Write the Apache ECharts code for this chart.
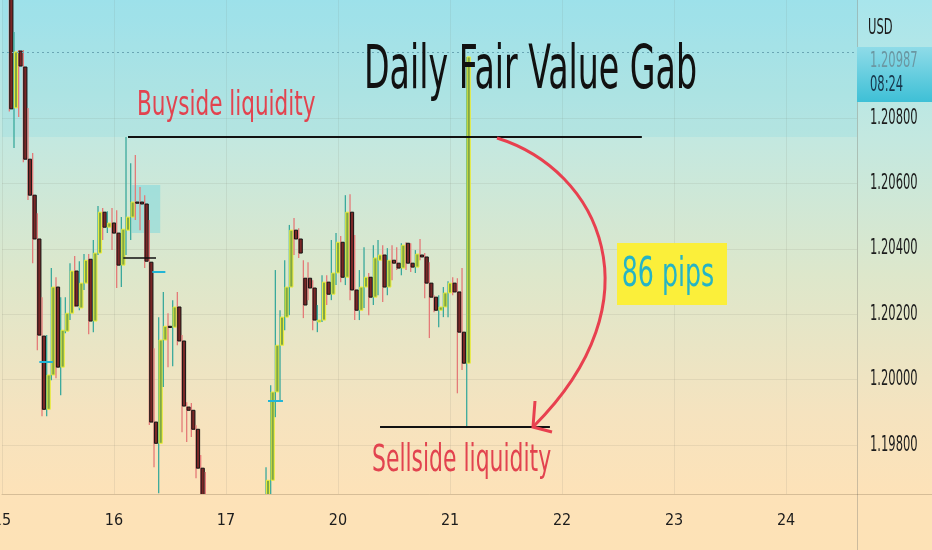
<!DOCTYPE html>
<html><head><meta charset="utf-8">
<script src="https://cdn.jsdelivr.net/npm/echarts@6/dist/echarts.min.js"></script>
<style>html,body{margin:0;padding:0;background:#fff}#c{width:932px;height:550px;}</style>
</head><body><div id="c"></div>
<script>
// ---- data (hourly EURUSD bars, one category per hour, 24 per trading day) ----
const days = ['15', '16', '17', '20', '21', '22', '23', '24'];
const hoursPerDay = 24;
const firstBar = 2; // hour index of the first bar on the 15th
const yTicks = [1.198, 1.200, 1.202, 1.204, 1.206, 1.208];
const lastPrice = 1.20987;
const buysideLevel = 1.20742;
const sellsideLevel = 1.19855;

const opens = [
 1.21300,1.20831,1.21005,1.20956,1.20674,1.20564,1.20430,1.20133,1.19909,1.20014,
 1.20283,1.20038,1.20148,1.20203,1.20332,1.20219,1.20295,1.20368,1.20179,1.20387,
 1.20512,1.20466,1.20479,1.20448,1.20350,1.20457,1.20497,1.20543,1.20543,1.20537,
 1.20359,1.19870,1.19805,1.20121,1.20163,1.20160,1.20222,1.20118,1.19916,1.19906,
 1.19848,1.19729,1.19570,1.19447,1.19410,1.19380,1.19420,1.19390,1.19430,1.19450,
 1.19440,1.19470,1.19460,1.19500,1.19560,1.19631,1.19692,1.19962,1.20105,1.20191,
 1.20283,1.20457,1.20430,1.20310,1.20310,1.20280,1.20176,1.20182,1.20298,1.20261,
 1.20326,1.20420,1.20313,1.20512,1.20274,1.20212,1.20283,1.20313,1.20252,1.20365,
 1.20381,1.20283,1.20365,1.20356,1.20341,1.20417,1.20356,1.20344,1.20381,1.20375,
 1.20295,1.20252,1.20212,1.20222,1.20265,1.20295,1.20268,1.20145,1.20050];
const closes = [
 1.20828,1.21002,1.20959,1.20674,1.20564,1.20430,1.20136,1.19909,1.20014,1.20283,
 1.20038,1.20151,1.20203,1.20332,1.20225,1.20295,1.20365,1.20179,1.20387,1.20512,
 1.20466,1.20479,1.20448,1.20350,1.20460,1.20497,1.20543,1.20540,1.20537,1.20362,
 1.19870,1.19805,1.20121,1.20163,1.20160,1.20222,1.20118,1.19919,1.19906,1.19848,
 1.19729,1.19570,1.19447,1.19410,1.19380,1.19420,1.19390,1.19430,1.19450,1.19440,
 1.19470,1.19460,1.19500,1.19560,1.19620,1.19692,1.19962,1.20105,1.20191,1.20283,
 1.20457,1.20430,1.20387,1.20228,1.20280,1.20182,1.20182,1.20298,1.20261,1.20326,
 1.20420,1.20313,1.20512,1.20274,1.20212,1.20283,1.20313,1.20252,1.20372,1.20381,
 1.20283,1.20365,1.20356,1.20341,1.20411,1.20356,1.20344,1.20384,1.20375,1.20295,
 1.20252,1.20212,1.20222,1.20265,1.20295,1.20268,1.20145,1.20050,1.20987];
const highs = [
 1.21350,1.21063,1.21008,1.21008,1.20831,1.20693,1.20509,1.20252,1.20136,1.20341,
 1.20313,1.20252,1.20252,1.20356,1.20378,1.20362,1.20384,1.20384,1.20427,1.20531,
 1.20525,1.20515,1.20525,1.20518,1.20497,1.20742,1.20662,1.20687,1.20589,1.20564,
 1.20488,1.20096,1.20191,1.20268,1.20203,1.20243,1.20268,1.20136,1.19931,1.19928,
 1.19860,1.19769,1.19717,1.19520,1.19460,1.19450,1.19440,1.19460,1.19480,1.19470,
 1.19500,1.19490,1.19530,1.19610,1.19650,1.19732,1.19983,1.20335,1.20212,1.20365,
 1.20473,1.20494,1.20463,1.20365,1.20359,1.20304,1.20228,1.20319,1.20319,1.20427,
 1.20448,1.20439,1.20564,1.20567,1.20442,1.20335,1.20405,1.20326,1.20411,1.20427,
 1.20411,1.20402,1.20411,1.20405,1.20417,1.20420,1.20417,1.20396,1.20430,1.20387,
 1.20359,1.20258,1.20258,1.20283,1.20301,1.20313,1.20310,1.20341,1.20987];
const lows = [
 1.20820,1.20708,1.20803,1.20665,1.20549,1.20356,1.20090,1.19888,1.19888,1.19998,
 1.20004,1.19952,1.20142,1.20182,1.20222,1.20212,1.20274,1.20139,1.20145,1.20381,
 1.20427,1.20448,1.20396,1.20280,1.20283,1.20381,1.20427,1.20488,1.20457,1.20341,
 1.19861,1.19732,1.19652,1.19977,1.20038,1.20041,1.20105,1.19839,1.19809,1.19824,
 1.19698,1.19539,1.19417,1.19360,1.19330,1.19350,1.19360,1.19370,1.19410,1.19420,
 1.19430,1.19440,1.19450,1.19480,1.19540,1.19600,1.19646,1.19885,1.19937,1.20151,
 1.20197,1.20381,1.20372,1.20188,1.20243,1.20151,1.20145,1.20176,1.20228,1.20243,
 1.20289,1.20298,1.20289,1.20243,1.20182,1.20182,1.20219,1.20197,1.20228,1.20258,
 1.20237,1.20258,1.20304,1.20335,1.20319,1.20335,1.20329,1.20326,1.20365,1.20249,
 1.20127,1.20206,1.20160,1.20191,1.20191,1.20258,1.19958,1.20029,1.19855];

// annotation levels (price, hour-index ranges)
const markerLines = [[8, 10.9, 1.20056], [32.2, 35, 1.20329], [57, 60.2, 1.19934]];
const shortBlack = [26, 33, 1.20373];
const fvgBox = [27.8, 33.9, 1.20448, 1.20595];
const buysideRange = [27, 137.1];
const sellsideRange = [81, 117.4];

const yMin = 1.19650, yMax = 1.21161;
const xMax = 183.2;

// ---- build ----
const bars = opens.map((o, i) => [firstBar + i, o, closes[i], lows[i], highs[i]]);
const dayTicks = days.map((d, i) => i * hoursPerDay);

const chart = echarts.init(document.getElementById('c'), null, {renderer: 'canvas'});
const handFont = "'Liberation Sans Narrow','DejaVu Sans Condensed','Roboto Condensed','DejaVu Sans',sans-serif";

const markLines = [];
markLines.push([{coord: [buysideRange[0], buysideLevel]}, {coord: [buysideRange[1], buysideLevel], lineStyle: {color: '#111', width: 2, type: 'solid'}}]);
markLines.push([{coord: [sellsideRange[0], sellsideLevel]}, {coord: [sellsideRange[1], sellsideLevel], lineStyle: {color: '#111', width: 2, type: 'solid'}}]);
markLines.push([{coord: [shortBlack[0], shortBlack[2]]}, {coord: [shortBlack[1], shortBlack[2]], lineStyle: {color: '#111', width: 1.5, type: 'solid'}}]);
markerLines.forEach(m => markLines.push([{coord: [m[0], m[2]]}, {coord: [m[1], m[2]], lineStyle: {color: '#22b5d6', width: 2, type: 'solid'}}]));
markLines.push({yAxis: lastPrice, lineStyle: {color: '#6aa6b4', width: 1, type: [2, 3]}});

function txt(x, y, text, size, color, sx, sy, extra) {
  return Object.assign({type: 'text', x: x, y: y, scaleX: sx, scaleY: sy, z: 11,
    style: Object.assign({text: text, fontSize: size, fill: color, fontFamily: handFont}, extra || {})});
}

const baseGraphics = [
  {type: 'line', shape: {x1: 857.5, y1: 0, x2: 857.5, y2: 550}, style: {stroke: 'rgba(130,130,120,0.4)', lineWidth: 1}, z: 10},
  {type: 'line', shape: {x1: 857, y1: 494.5, x2: 932, y2: 494.5}, style: {stroke: 'rgba(140,120,90,0.35)', lineWidth: 1}, z: 10},
  txt(868, 18, 'USD', 16, '#1c1c1c', 0.8, 1.3),
  {type: 'rect', shape: {x: 857, y: 47, width: 75, height: 55}, z: 10,
   style: {fill: new echarts.graphic.LinearGradient(0, 0, 0, 1, [{offset: 0, color: '#8fdbe8'}, {offset: 1, color: '#3ec0d6'}])}},
  txt(870, 51, lastPrice.toFixed(5), 16, '#6b97a2', 0.8, 1.3),
  txt(870, 75, '08:24', 16, '#17354a', 0.8, 1.3),
  txt(364, 42, 'Daily Fair Value Gab', 48, '#111', 0.77, 1.25),
  txt(137, 89, 'Buyside liquidity', 28, '#e2434f', 0.856, 1.2),
  txt(372, 443, 'Sellside liquidity', 28, '#e2434f', 0.87, 1.3),
  {type: 'rect', shape: {x: 617, y: 243, width: 110, height: 62}, style: {fill: '#fbef3a'}, z: 10},
  txt(668, 275, '86 pips', 36, '#25b4c6', 0.78, 1.15, {align: 'center', verticalAlign: 'middle'}),
  {type: 'bezierCurve', shape: {x1: 497, y1: 138, cpx1: 600, cpy1: 170, cpx2: 660, cpy2: 300, x2: 534, y2: 426},
   style: {stroke: '#e8404f', lineWidth: 3, fill: null}, z: 10},
  {type: 'polyline', shape: {points: [[535, 401], [533, 427], [552, 432]]}, style: {stroke: '#e8404f', lineWidth: 3, fill: null}, z: 10}
];

chart.setOption({
  animation: false,
  backgroundColor: new echarts.graphic.LinearGradient(0, 0, 0, 1, [
    {offset: 0, color: '#a8e5ec'},
    {offset: 0.25, color: '#c3e8e0'},
    {offset: 0.5, color: '#dde7cb'},
    {offset: 0.75, color: '#f5e3bf'},
    {offset: 0.9, color: '#fde2b8'},
    {offset: 1, color: '#fde2b6'}
  ]),
  grid: {left: 2, right: 75, top: 0, bottom: 56, containLabel: false, outerBoundsMode: 'none'},
  xAxis: {
    type: 'value', min: 0, max: xMax,
    axisLine: {show: true, lineStyle: {color: 'rgba(140,120,90,0.35)', width: 1}},
    axisTick: {show: false, customValues: dayTicks},
    axisLabel: {customValues: dayTicks, formatter: v => days[Math.round(v / hoursPerDay)], color: '#1c1c1c', fontSize: 16, margin: 19, fontFamily: handFont},
    splitLine: {show: true, lineStyle: {color: 'rgba(120,120,110,0.13)', width: 1}}
  },
  yAxis: {
    type: 'value', position: 'right', min: yMin, max: yMax, scale: true,
    axisLine: {show: false},
    axisTick: {show: false, customValues: yTicks},
    axisLabel: {show: false, customValues: yTicks},
    splitLine: {show: true, lineStyle: {color: 'rgba(120,120,110,0.13)', width: 1}}
  },
  series: [{
    type: 'custom',
    clip: true,
    data: bars,
    encode: {x: 0, y: [1, 2, 3, 4]},
    renderItem: function (params, api) {
      const x = api.value(0), o = api.value(1), c = api.value(2), l = api.value(3), h = api.value(4);
      const po = api.coord([x, o]), pc = api.coord([x, c]), pl = api.coord([x, l]), ph = api.coord([x, h]);
      const bull = c >= o;
      const w = 3.2;
      const cx = po[0];
      const top = Math.min(po[1], pc[1]);
      const ht = Math.max(1.2, Math.abs(po[1] - pc[1]));
      return {
        type: 'group',
        children: [
          {type: 'line', shape: {x1: cx - 2, y1: ph[1], x2: cx - 2, y2: pl[1]},
           style: {stroke: bull ? '#3aa99c' : '#e47a78', lineWidth: 1.3}},
          {type: 'rect', shape: {x: cx - w / 2, y: top, width: w, height: ht},
           style: {fill: bull ? '#7fa746' : '#7a2727', stroke: bull ? '#f0f03a' : '#121212', lineWidth: 1}}
        ]
      };
    },
    markArea: {
      silent: true,
      data: [
        [{yAxis: buysideLevel, itemStyle: {color: 'rgba(95,208,228,0.14)'}}, {yAxis: yMax}],
        [{coord: [fvgBox[0], fvgBox[3]], itemStyle: {color: 'rgba(110,212,222,0.45)'}}, {coord: [fvgBox[1], fvgBox[2]]}]
      ]
    },
    markLine: {silent: true, symbol: 'none', label: {show: false}, data: markLines}
  }],
  graphic: baseGraphics
});

// price-axis labels placed through the y axis scale (narrow, tall lettering)
const yLabelGraphics = yTicks.map(v => txt(870, chart.convertToPixel({yAxisIndex: 0}, v), v.toFixed(5), 16, '#1c1c1c', 0.8, 1.35, {verticalAlign: 'middle'}));
chart.setOption({graphic: baseGraphics.concat(yLabelGraphics)});
</script>
</body></html>
